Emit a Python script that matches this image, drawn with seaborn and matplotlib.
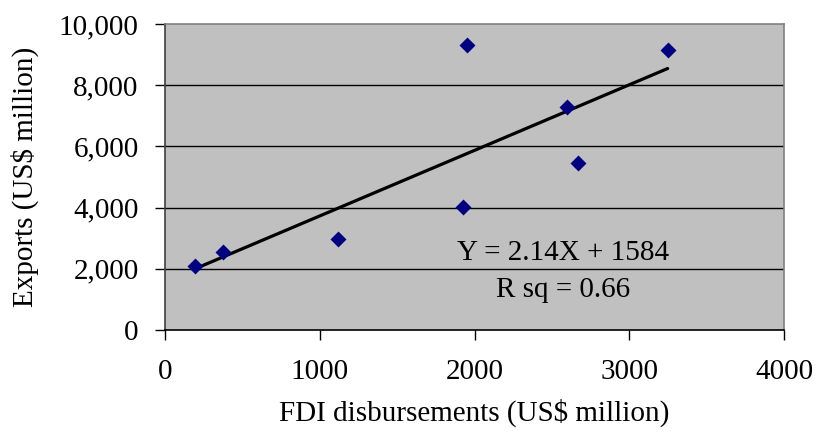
import matplotlib
matplotlib.use("Agg")
import matplotlib.pyplot as plt
import matplotlib.ticker as mticker
import seaborn as sns
import pandas as pd

fdi = [194, 377, 1116, 1928, 1953, 2596, 2667, 3248]
exports = [2090, 2560, 2980, 4030, 9310, 7280, 5450, 9150]
x_ticks = [0, 1000, 2000, 3000, 4000]
y_ticks = [0, 2000, 4000, 6000, 8000, 10000]
eq_text = "Y = 2.14X + 1584"
r2_text = "R sq = 0.66"

df = pd.DataFrame({"fdi": fdi, "exports": exports})

sns.set_theme(style="white")
plt.rcParams['font.family'] = ['Liberation Serif', 'DejaVu Serif']

FS = 21

fig = plt.figure(figsize=(8.16, 4.32), dpi=100)
ax = fig.add_axes([0.2022, 0.2361, 0.7586, 0.7083])
ax.set_facecolor("#C0C0C0")

sns.regplot(data=df, x="fdi", y="exports", ax=ax, ci=None, marker="D",
            scatter_kws=dict(s=66, color="#000080", edgecolor="#000080", linewidths=0,
                             alpha=1, zorder=3),
            line_kws=dict(color="black", lw=2.3, zorder=2))

ax.set_xlim(0, 4000)
ax.set_ylim(0, 10000)
ax.set_xticks(x_ticks)
ax.set_yticks(y_ticks)
ax.xaxis.set_major_formatter(mticker.FuncFormatter(lambda v, p: f"{int(v)}"))
ax.yaxis.set_major_formatter(mticker.FuncFormatter(lambda v, p: f"{int(v):,}"))

for yv in y_ticks[1:-1]:
    ax.axhline(yv, color="black", lw=1.0, zorder=1)

for s in ["top", "right"]:
    ax.spines[s].set_color("#808080")
    ax.spines[s].set_linewidth(1.2)
for s in ["left", "bottom"]:
    ax.spines[s].set_color("black")
    ax.spines[s].set_linewidth(1.2)
ax.spines["left"].set_color("#404040")

ax.tick_params(axis="both", direction="out", length=7, width=1, color="black",
               labelsize=FS, labelcolor="black", left=True, bottom=True)
ax.tick_params(axis="x", pad=14)
ax.tick_params(axis="y", pad=12)

ax.set_xlabel("FDI disbursements (US$ million)", fontsize=FS, labelpad=10, color="black")
ax.set_ylabel("Exports (US$ million)", fontsize=FS, labelpad=14, color="black")

ax.text(2572, 2516, eq_text, ha="center", va="center", fontsize=FS, color="black")
ax.text(2572, 1307, r2_text, ha="center", va="center", fontsize=FS, color="black")

fig.savefig("out.png", dpi=100, facecolor="white")
